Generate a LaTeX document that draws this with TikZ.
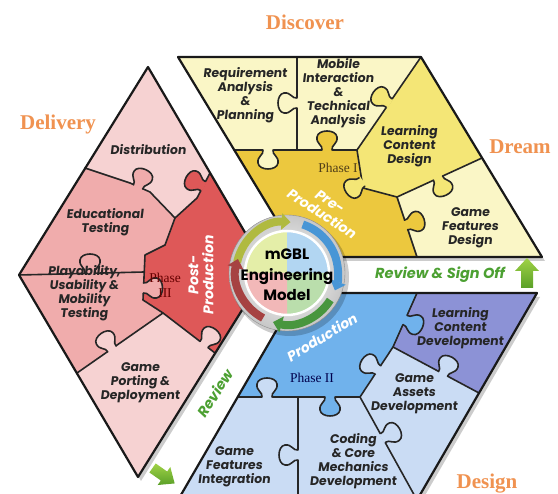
\documentclass[tikz,border=0pt]{standalone}
\usepackage{fontspec}
\setmainfont{Liberation Serif}
\newfontfamily\puzfont{Poppins}[FakeSlant=0.12]
\newfontfamily\hubfont{Poppins}
\usetikzlibrary{arrows.meta}

\definecolor{yelPale}{RGB}{250,246,198}
\definecolor{yelMid}{RGB}{244,230,118}
\definecolor{yelDeep}{RGB}{236,200,62}
\definecolor{pinkPale}{RGB}{246,210,210}
\definecolor{pinkMid}{RGB}{240,172,172}
\definecolor{redDeep}{RGB}{222,88,88}
\definecolor{bluePale}{RGB}{202,220,244}
\definecolor{blueMid}{RGB}{112,178,236}
\definecolor{bluePurp}{RGB}{140,146,214}
\definecolor{labelOrange}{RGB}{240,146,80}
\definecolor{reviewGreen}{RGB}{76,160,50}
\definecolor{arrowLight}{RGB}{160,210,70}
\definecolor{arrowDark}{RGB}{90,160,40}
\definecolor{phaseBrown}{RGB}{80,62,24}
\definecolor{hubYel}{RGB}{228,238,168}
\definecolor{hubBlue}{RGB}{178,214,242}
\definecolor{hubGreen}{RGB}{186,222,172}
\definecolor{hubPink}{RGB}{242,184,184}
\definecolor{hubOlive}{RGB}{176,186,64}
\definecolor{hubArrBlue}{RGB}{72,150,214}
\definecolor{hubArrGreen}{RGB}{72,150,62}
\definecolor{hubArrRed}{RGB}{166,66,66}

\tikzset{
  rim/.style={draw=black!90, line width=2.2pt, line join=round},
  seam/.style={draw=black!85, line width=1.6pt, line join=round, line cap=round},
  shadowfill/.style={fill=black, opacity=.2},
  puzlabel/.style={font=\puzfont\bfseries\fontsize{12.5}{14}\selectfont, align=center, text=black!85, inner sep=0pt},
  phaselabel/.style={font=\fontsize{13.5}{15}\selectfont, align=center, inner sep=0pt},
  stagename/.style={font=\hubfont\bfseries\itshape\fontsize{14}{15}\selectfont, text=white, align=center, inner sep=0pt},
  cornerlabel/.style={font=\bfseries\fontsize{21}{24}\selectfont, text=labelOrange, inner sep=0pt},
  reviewlabel/.style={font=\hubfont\bfseries\itshape\fontsize{14.5}{16}\selectfont, text=reviewGreen, inner sep=0pt},
  hubtext/.style={font=\hubfont\bfseries\fontsize{15}{20.5}\selectfont, align=center, inner sep=0pt},
  greenarrow/.style={top color=arrowLight, bottom color=arrowDark},
  hubarrow/.style={line width=8pt, -{Triangle[length=9pt, width=16pt]}},
  pics/knob/.style={code={
    \fill[#1] (-5,1.5) -- (-5,0) .. controls (-4,-5) and (-11,-6) .. (-10,-13)
      .. controls (-9,-21) and (9,-21) .. (10,-13) .. controls (11,-6) and (4,-5) .. (5,0)
      -- (5,1.5) -- cycle;
    \draw[seam] (-5,0) .. controls (-4,-5) and (-11,-6) .. (-10,-13)
      .. controls (-9,-21) and (9,-21) .. (10,-13) .. controls (11,-6) and (4,-5) .. (5,0);
  }}
}

\begin{document}
\begin{tikzpicture}[x=1pt, y=-1pt]
  \clip (0,0) rectangle (558,494);
  \fill[white] (0,0) rectangle (558,494);

  % Pre-production (yellow)
  \fill[shadowfill] (181,61) -- (424,61) -- (545,261) -- (302,261) -- cycle;
  \fill[yelPale] (178,57) -- (421,57) -- (542,257) -- (299,257) -- cycle;
  \fill[yelMid] (421,57) -- (357,150) -- (363,188) -- (397,197) -- (482,158) -- cycle;
  \fill[yelDeep] (234,150) -- (357,150) -- (363,188) -- (397,197) -- (417,257) -- (299,257) -- cycle;
  \draw[seam] (297,57) -- (297,150);
  \draw[seam] (234,150) -- (357,150);
  \draw[seam] (421,57) -- (357,150) -- (363,188) -- (397,197) -- (482,158);
  \draw[seam] (397,197) -- (417,257);
  \pic[rotate=90] at (297,103) {knob=yelPale};
  \pic[rotate=180] at (268,150) {knob=yelPale};
  \pic at (327,150) {knob=yelDeep};
  \pic[rotate=55] at (389,103) {knob=yelMid};
  \pic[rotate=125] at (362,182) {knob=yelMid};
  \pic[rotate=-155] at (438,178) {knob=yelMid};
  \pic[rotate=-72] at (406,225) {knob=yelDeep};
  \draw[rim] (178,57) -- (421,57) -- (542,257) -- (299,257) -- cycle;

  % Post-production (pink)
  \fill[shadowfill] (151,71) -- (270,274) -- (141,481) -- (22,279) -- cycle;
  \fill[pinkPale] (148,67) -- (267,270) -- (138,477) -- (19,275) -- cycle;
  \fill[pinkMid] (85,168) -- (130,183) -- (150,192) -- (175,218) -- (165,245) -- (145,255)
    -- (143,300) -- (163,313) -- (77,373) -- (19,275) -- cycle;
  \fill[redDeep] (210,173) -- (197,198) -- (175,218) -- (165,245) -- (145,255) -- (143,300)
    -- (163,313) -- (193,336) -- (215,353) -- (267,270) -- cycle;
  \draw[seam] (85,168) -- (130,183) -- (150,192) -- (175,218);
  \draw[seam] (210,173) -- (197,198) -- (175,218) -- (165,245) -- (145,255) -- (143,300)
    -- (163,313) -- (193,336) -- (215,353);
  \draw[seam] (19,275) -- (144,272);
  \draw[seam] (77,373) -- (163,313);
  \pic[rotate=-24] at (138,187) {knob=pinkMid};
  \pic[rotate=62] at (203,186) {knob=redDeep};
  \pic at (90,273) {knob=pinkMid};
  \pic[rotate=-90] at (143.5,288) {knob=pinkMid};
  \pic[rotate=35] at (112,349) {knob=pinkPale};
  \pic[rotate=-38] at (204,344.5) {knob=pinkPale};
  \draw[rim] (148,67) -- (267,270) -- (138,477) -- (19,275) -- cycle;

  % Production (blue)
  \fill[shadowfill] (301,297) -- (540,297) -- (420,504) -- (181,504) -- cycle;
  \fill[bluePale] (298,293) -- (537,293) -- (417,500) -- (178,500) -- cycle;
  \fill[bluePurp] (417,293) -- (537,293) -- (479,393) -- (393,347) -- cycle;
  \fill[blueMid] (298,293) -- (417,293) -- (393,347) -- (360,397) -- (238,397) -- cycle;
  \draw[seam] (417,293) -- (393,347) -- (479,393);
  \draw[seam] (393,347) -- (360,397) -- (417,500);
  \draw[seam] (238,397) -- (360,397);
  \draw[seam] (298,397) -- (298,500);
  \pic[rotate=-114] at (405,320) {knob=blueMid};
  \pic[rotate=-28] at (443,374) {knob=bluePale};
  \pic[rotate=57] at (378,370) {knob=bluePale};
  \pic[rotate=180] at (330,397) {knob=blueMid};
  \pic at (267,397) {knob=bluePale};
  \pic[rotate=90] at (298,455) {knob=bluePale};
  \pic[rotate=-61] at (383,438) {knob=bluePale};
  \draw[rim] (298,293) -- (537,293) -- (417,500) -- (178,500) -- cycle;

  % hub
  \begin{scope}[shift={(287,273)}, y=1pt]
    \fill[shadowfill] (3,-4) circle[radius=59];
    \shadedraw[inner color=white, outer color=black!22, draw=black!45] (0,0) circle[radius=58];
    \fill[hubYel] (0,0) -- (0,43) arc[start angle=90, end angle=180, radius=43] -- cycle;
    \fill[hubBlue] (0,0) -- (43,0) arc[start angle=0, end angle=90, radius=43] -- cycle;
    \fill[hubGreen] (0,0) -- (0,-43) arc[start angle=270, end angle=360, radius=43] -- cycle;
    \fill[hubPink] (0,0) -- (-43,0) arc[start angle=180, end angle=270, radius=43] -- cycle;
    \draw[white, line width=2.5pt] (0,0) circle[radius=42];
    \draw[hubarrow, hubOlive] (168:51) arc[start angle=168, end angle=86, radius=51];
    \draw[hubarrow, hubArrBlue] (72:51) arc[start angle=72, end angle=-20, radius=51];
    \draw[hubarrow, hubArrGreen] (-32:51) arc[start angle=-32, end angle=-106, radius=51];
    \draw[hubarrow, hubArrRed] (-118:51) arc[start angle=-118, end angle=-196, radius=51];
  \end{scope}
  \node[hubtext] (hubTitle) at (287,275) {mGBL\\Engineering\\Model};

  % puzzle labels
  \node[puzlabel] (reqPlan) at (245,95) {Requirement\\Analysis\\\&\\Planning};
  \node[puzlabel] (mobInter) at (338,93) {Mobile\\Interaction\\\&\\Technical\\Analysis};
  \node[puzlabel] (learnDesign) at (409,146) {Learning\\Content\\Design};
  \node[puzlabel] (featDesign) at (470,228) {Game\\Features\\Design};
  \node[phaselabel, text=phaseBrown] (phaseOne) at (338,168) {Phase I};
  \node[stagename, rotate=-33] (preProd) at (326,208) {Pre-\\Production};

  \node[puzlabel] (distrib) at (148,150) {Distribution};
  \node[puzlabel] (eduTest) at (105,222) {Educational\\Testing};
  \node[puzlabel] (playTest) at (84,293) {Playability,\\Usability \&\\Mobility\\Testing};
  \node[puzlabel] (portDeploy) at (140,383) {Game\\Porting \&\\Deployment};
  \node[phaselabel, text=red!40!black] (phaseThree) at (165,285) {Phase\\III};
  \node[stagename, rotate=90] (postProd) at (201,275) {Post-\\Production};

  \node[puzlabel] (learnDev) at (460,328) {Learning\\Content\\Development};
  \node[puzlabel] (assetDev) at (414,394) {Game\\Assets\\Development};
  \node[puzlabel] (codeDev) at (353,461) {Coding\\\& Core\\Mechanics\\Development};
  \node[puzlabel] (featInteg) at (234,467) {Game\\Features\\Integration};
  \node[phaselabel, text=blue!30!black] (phaseTwo) at (312,378) {Phase II};
  \node[stagename, rotate=31] (prod) at (322,337) {Production};

  % stage names and reviews
  \node[cornerlabel] (discover) at (305,22) {Discover};
  \node[cornerlabel] (dream) at (520,147) {Dream};
  \node[cornerlabel] (delivery) at (58,124) {Delivery};
  \node[cornerlabel] (design) at (487,484) {Design};
  \node[reviewlabel] (signOff) at (440,275) {Review \& Sign Off};
  \node[reviewlabel, rotate=57] (review) at (215,393) {Review};
  \shade[greenarrow] (527,258) -- (539,271) -- (533,271) -- (533,288) -- (521,288)
    -- (521,271) -- (515,271) -- cycle;
  \begin{scope}[shift={(164,476)}, rotate=-35]
    \shade[greenarrow] (13,0) -- (0,11) -- (0,5.5) -- (-14,5.5) -- (-14,-5.5) -- (0,-5.5)
      -- (0,-11) -- cycle;
  \end{scope}
\end{tikzpicture}
\end{document}
